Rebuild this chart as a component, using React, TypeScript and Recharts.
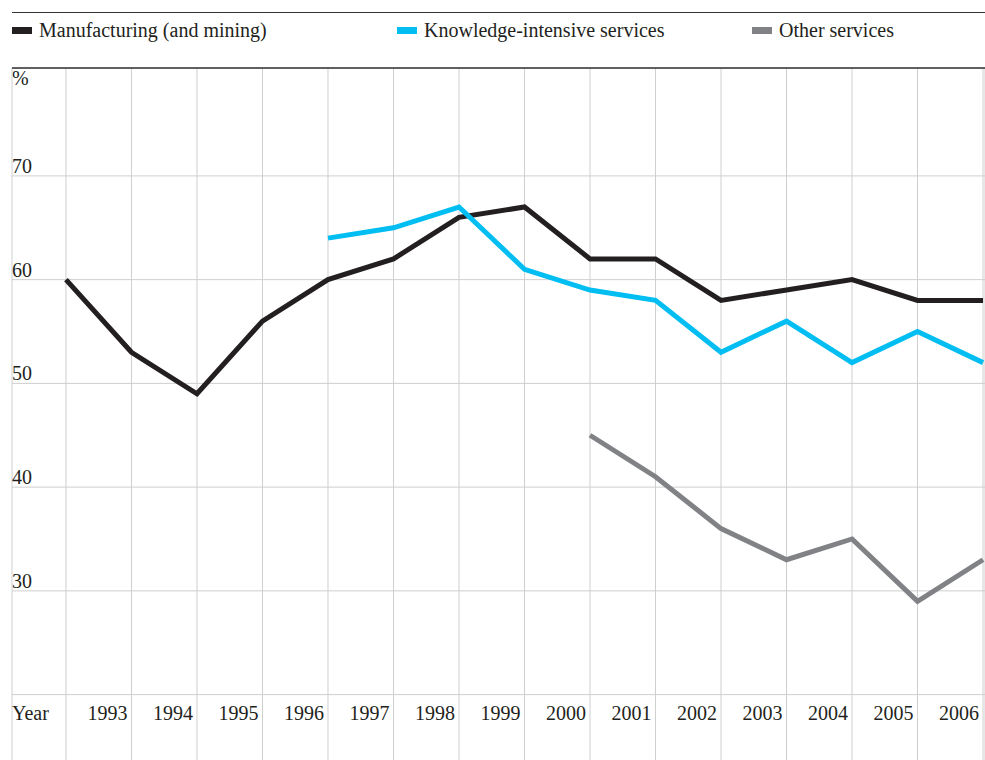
import React from 'react';
import { LineChart, Line, XAxis, YAxis, CartesianGrid, ReferenceLine } from 'recharts';

// Share of firms (%) by sector, 1992-2006
const years = [1992, 1993, 1994, 1995, 1996, 1997, 1998, 1999, 2000, 2001, 2002, 2003, 2004, 2005, 2006];
const manufacturing = [60, 53, 49, 56, 60, 62, 66, 67, 62, 62, 58, 59, 60, 58, 58];
const knowledge = [null, null, null, null, 64, 65, 67, 61, 59, 58, 53, 56, 52, 55, 52];
const otherServices = [null, null, null, null, null, null, null, null, 45, 41, 36, 33, 35, 29, 33];
const yTicks = [20, 30, 40, 50, 60, 70];
const yLabelled = [30, 40, 50, 60, 70];

const series = [
  { key: 'manufacturing', name: 'Manufacturing (and mining)', color: '#231f20', left: 12 },
  { key: 'knowledge', name: 'Knowledge-intensive services', color: '#00bdf2', left: 397 },
  { key: 'other', name: 'Other services', color: '#808285', left: 752 },
];

const data = years.map((year, i) => ({
  year,
  manufacturing: manufacturing[i],
  knowledge: knowledge[i],
  other: otherServices[i],
}));

const W = 985;
const H = 760;
const LEFT = 12;
const TOP = 68;
const FONT = '"Liberation Serif", "Times New Roman", serif';
const FS = 20;
const TEXT = '#231f20';
const GRID = '#cfcfcf';

// domains stretched so the plot box covers the full grid area
const X_MIN = 1991.176;
const X_MAX = 2006.03;
const Y_MIN = 13.6;
const Y_MAX = 80.4;

const renderYTick = (props: any) => {
  const { y, payload } = props;
  if (!yLabelled.includes(payload.value)) return <g />;
  return (
    <text x={LEFT} y={y - 3} fontSize={FS} fontFamily={FONT} fill={TEXT} textAnchor="start">
      {payload.value}
    </text>
  );
};

const renderXTick = (props: any) => {
  const { x, payload } = props;
  if (payload.value === 1992) {
    return (
      <text x={LEFT} y={720} fontSize={FS} fontFamily={FONT} fill={TEXT} textAnchor="start">
        Year
      </text>
    );
  }
  return (
    <text x={x - 4} y={720} fontSize={FS} fontFamily={FONT} fill={TEXT} textAnchor="end">
      {payload.value}
    </text>
  );
};

const App = () => {
  return (
    <div style={{ position: 'relative', width: W, height: H, background: '#fff', fontFamily: FONT, overflow: 'hidden' }}>
      <style>{'body{margin:0}'}</style>

      {/* legend strip under the top rule */}
      <div
        style={{
          position: 'absolute',
          left: LEFT,
          top: 12,
          width: W - LEFT,
          height: TOP - 12,
          borderTop: '1.5px solid #333',
          boxSizing: 'border-box',
        }}
      >
        {series.map((s) => (
          <div
            key={s.key}
            style={{
              position: 'absolute',
              left: s.left - LEFT,
              top: 6,
              display: 'flex',
              alignItems: 'center',
              fontSize: FS,
              color: TEXT,
              whiteSpace: 'nowrap',
            }}
          >
            <span style={{ display: 'inline-block', width: 20, height: 7, background: s.color, marginRight: 7 }} />
            {s.name}
          </div>
        ))}
      </div>

      <div style={{ position: 'absolute', left: LEFT, top: 67, fontSize: FS, color: TEXT }}>%</div>

      <LineChart
        width={W}
        height={H + 2}
        data={data}
        margin={{ top: TOP, right: 0, bottom: 0, left: LEFT - 1 }}
        style={{ position: 'absolute', left: 0, top: 0 }}
      >
        <CartesianGrid stroke={GRID} strokeWidth={1} />
        <XAxis
          type="number"
          dataKey="year"
          domain={[X_MIN, X_MAX]}
          ticks={years}
          allowDataOverflow
          height={1}
          axisLine={false}
          tickLine={false}
          tick={renderXTick}
          interval={0}
        />
        <YAxis
          type="number"
          domain={[Y_MIN, Y_MAX]}
          ticks={yTicks}
          allowDataOverflow
          width={1}
          axisLine={false}
          tickLine={false}
          tick={renderYTick}
          interval={0}
        />
        <ReferenceLine y={Y_MAX} stroke="#333" strokeWidth={1.5} />
        {series.map((s) => (
          <Line
            key={s.key}
            type="linear"
            dataKey={s.key}
            name={s.name}
            stroke={s.color}
            strokeWidth={5}
            strokeLinejoin="miter"
            dot={false}
            activeDot={false}
            connectNulls={false}
            isAnimationActive={false}
          />
        ))}
      </LineChart>
    </div>
  );
};

export default App;
